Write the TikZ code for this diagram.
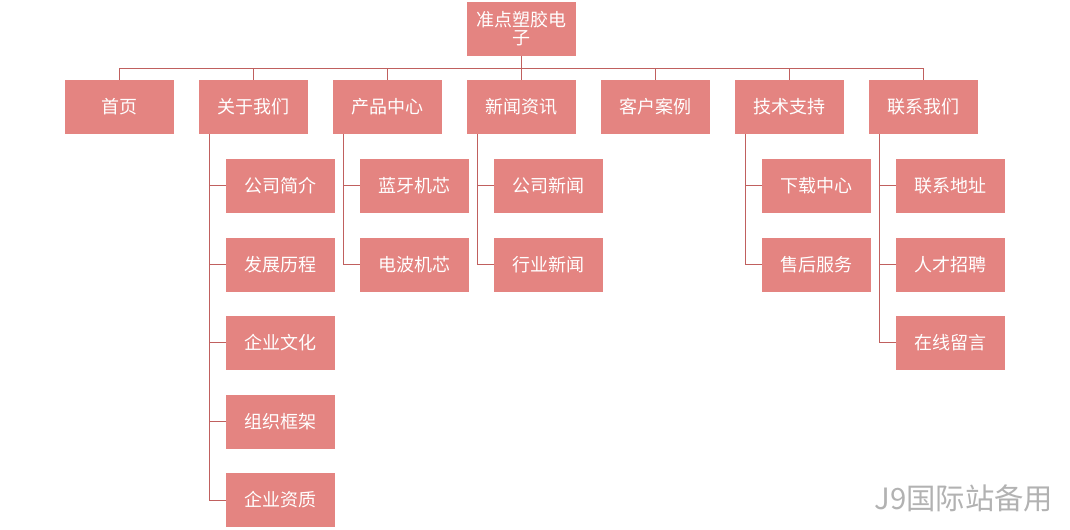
\documentclass[tikz,border=0pt]{standalone}
\usepackage{fontspec}
\newfontfamily\cjk{Noto Sans CJK SC}
\begin{document}
\begin{tikzpicture}[x=0.75pt,y=-0.75pt,
 box/.style={fill=boxc,draw=none,minimum width=81.75pt,minimum height=40.5pt,inner sep=0pt,text=white,font=\cjk\fontsize{13.5}{15}\selectfont,align=center},
 ln/.style={draw=linec,line width=0.75pt}]
\definecolor{boxc}{HTML}{E48481}
\definecolor{linec}{HTML}{C0605E}
\useasboundingbox (0,0) rectangle (1070,529);
\node[box] (r) at (521.5,28.5) {准点塑胶电\\[-2pt]子};
\foreach \n/\x/\t in {a/119.5/首页,b/253.5/关于我们,c/387.5/产品中心,d/521.5/新闻资讯,e/655.5/客户案例,f/789.5/技术支持,g/923.5/联系我们}{
 \node[box] (\n) at (\x,107) {\t};
 \draw[ln] (\n.north) -- (\x,68);
}
\draw[ln] (r.south) -- (521.5,68);
\draw[ln] (119.5,68) -- (923.5,68);
\def\rows{{185.5,264.5,342.5,421.5,500}}
\foreach \n/\x/\lst in {b/253.5/{公司简介,发展历程,企业文化,组织框架,企业资质},c/387.5/{蓝牙机芯,电波机芯},d/521.5/{公司新闻,行业新闻},f/789.5/{下载中心,售后服务},g/923.5/{联系地址,人才招聘,在线留言}}{
 \foreach \t [count=\i] in \lst {
  \pgfmathsetmacro\yy{\rows[\i-1]}
  \node[box] (\n\i) at (\x+27,\yy) {\t};
  \draw[ln] (\x-44.5,\yy) -- (\n\i.west);
  \xdef\last{\yy}
 }
 \draw[ln] (\x-44.5,134) -- (\x-44.5,\last);
}
\node[text=gray!60,font=\cjk\fontsize{22}{24}\selectfont,anchor=east] (w) at (1058,498) {J9国际站备用};
\end{tikzpicture}
\end{document}
